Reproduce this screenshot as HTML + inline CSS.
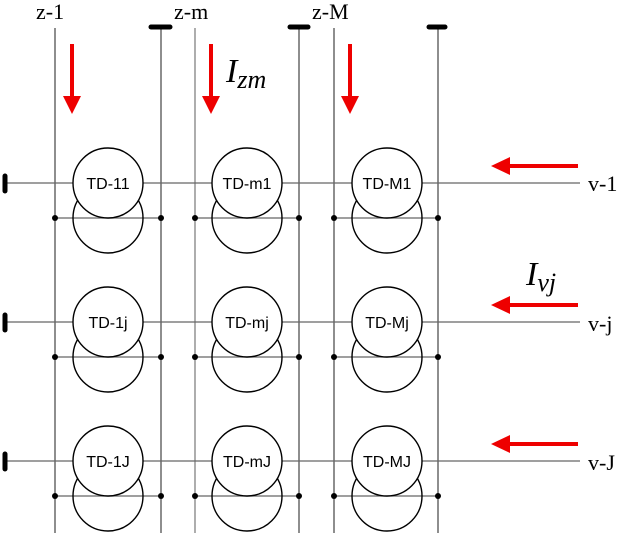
<!DOCTYPE html>
<html><head><style>body{margin:0;background:#fff}</style></head><body>
<svg width="620" height="533" viewBox="0 0 620 533" xmlns="http://www.w3.org/2000/svg" font-family="Liberation Serif, serif">
<g stroke="#444" stroke-width="1.2">
<line x1="55" y1="28" x2="55" y2="533"/><line x1="161" y1="28" x2="161" y2="533"/>
<line x1="195" y1="28" x2="195" y2="533" stroke="#777"/><line x1="299" y1="28" x2="299" y2="533"/>
<line x1="334" y1="28" x2="334" y2="533"/><line x1="438" y1="28" x2="438" y2="533"/>
</g>
<g stroke="#666" stroke-width="1.2">
<line x1="5" y1="183" x2="580" y2="183"/><line x1="5" y1="322" x2="580" y2="322"/><line x1="5" y1="461" x2="580" y2="461"/>
<line x1="55" y1="218" x2="161" y2="218"/><line x1="195" y1="218" x2="299" y2="218"/><line x1="334" y1="218" x2="438" y2="218"/>
<line x1="55" y1="357" x2="161" y2="357"/><line x1="195" y1="357" x2="299" y2="357"/><line x1="334" y1="357" x2="438" y2="357"/>
<line x1="55" y1="496" x2="161" y2="496"/><line x1="195" y1="496" x2="299" y2="496"/><line x1="334" y1="496" x2="438" y2="496"/>
</g>
<g stroke="#000" stroke-width="5" stroke-linecap="round">
<line x1="151" y1="27" x2="170" y2="27"/><line x1="290" y1="27" x2="308" y2="27"/><line x1="429" y1="27" x2="445" y2="27"/>
<line x1="5" y1="176" x2="5" y2="191"/><line x1="5" y1="315" x2="5" y2="330"/><line x1="5" y1="454" x2="5" y2="469"/>
</g>
<g fill="#000">
<circle cx="55" cy="218" r="3"/><circle cx="161" cy="218" r="3"/><circle cx="195" cy="218" r="3"/><circle cx="299" cy="218" r="3"/><circle cx="334" cy="218" r="3"/><circle cx="438" cy="218" r="3"/>
<circle cx="55" cy="357" r="3"/><circle cx="161" cy="357" r="3"/><circle cx="195" cy="357" r="3"/><circle cx="299" cy="357" r="3"/><circle cx="334" cy="357" r="3"/><circle cx="438" cy="357" r="3"/>
<circle cx="55" cy="496" r="3"/><circle cx="161" cy="496" r="3"/><circle cx="195" cy="496" r="3"/><circle cx="299" cy="496" r="3"/><circle cx="334" cy="496" r="3"/><circle cx="438" cy="496" r="3"/>
</g>
<g fill="none" stroke="#000" stroke-width="1.4">
<circle cx="108" cy="218" r="35"/><circle cx="247" cy="218" r="35"/><circle cx="387" cy="218" r="35"/>
<circle cx="108" cy="357" r="35"/><circle cx="247" cy="357" r="35"/><circle cx="387" cy="357" r="35"/>
<circle cx="108" cy="496" r="35"/><circle cx="247" cy="496" r="35"/><circle cx="387" cy="496" r="35"/>
</g>
<g fill="#fff" stroke="#000" stroke-width="1.4">
<circle cx="108" cy="183" r="35"/><circle cx="247" cy="183" r="35"/><circle cx="387" cy="183" r="35"/>
<circle cx="108" cy="322" r="35"/><circle cx="247" cy="322" r="35"/><circle cx="387" cy="322" r="35"/>
<circle cx="108" cy="461" r="35"/><circle cx="247" cy="461" r="35"/><circle cx="387" cy="461" r="35"/>
</g>
<g font-family="Liberation Sans, sans-serif" font-size="16" text-anchor="middle" fill="#000">
<text x="108" y="189">TD-11</text><text x="247" y="189">TD-m1</text><text x="387" y="189">TD-M1</text>
<text x="108" y="328">TD-1j</text><text x="247" y="328">TD-mj</text><text x="387" y="328">TD-Mj</text>
<text x="108" y="467">TD-1J</text><text x="247" y="467">TD-mJ</text><text x="387" y="467">TD-MJ</text>
</g>
<g stroke="#e00" stroke-width="4">
<line x1="72" y1="44" x2="72" y2="98"/><line x1="211" y1="44" x2="211" y2="98"/><line x1="350" y1="44" x2="350" y2="98"/>
<line x1="578" y1="166" x2="508" y2="166"/><line x1="578" y1="305" x2="508" y2="305"/><line x1="578" y1="444" x2="508" y2="444"/>
</g>
<g fill="#e00">
<polygon points="63,96 81,96 72,114"/><polygon points="202,96 220,96 211,114"/><polygon points="341,96 359,96 350,114"/>
<polygon points="510,157 510,175 491,166"/><polygon points="510,296 510,314 491,305"/><polygon points="510,435 510,453 491,444"/>
</g>
<g font-size="22" fill="#000">
<text x="36" y="19">z-1</text><text x="174" y="19">z-m</text><text x="312" y="19">z-M</text>
<text x="588" y="191">v-1</text><text x="588" y="331">v-j</text><text x="588" y="470">v-J</text>
</g>
<text x="226" y="82" font-size="34" font-style="italic">I<tspan font-size="26" dy="6">zm</tspan></text>
<text x="526" y="285" font-size="34" font-style="italic">I<tspan font-size="26" dy="6">vj</tspan></text>
</svg>
</body></html>
